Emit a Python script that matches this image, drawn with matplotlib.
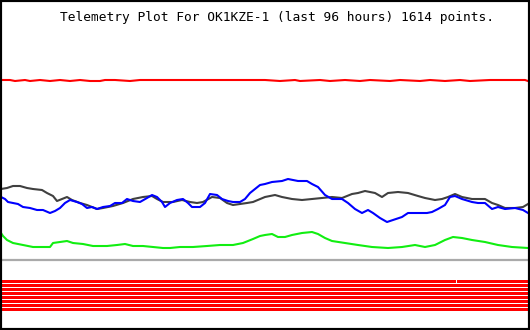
import matplotlib
matplotlib.use("Agg")
import matplotlib.pyplot as plt

title = "Telemetry Plot For OK1KZE-1 (last 96 hours) 1614 points."

# Series (x = time position, y = plotted level, screen units)
red_x = [1, 10, 15, 25, 30, 40, 50, 60, 70, 80, 90, 100, 105, 115, 130, 140, 160, 175,
         195, 215, 230, 250, 265, 280, 295, 300, 320, 330, 345, 360, 370, 390, 400, 420,
         430, 445, 460, 470, 490, 500, 515, 525, 528]
red_y = [80, 80, 81, 80, 81, 80, 81, 80, 81, 80, 81, 81, 80, 80, 81, 80, 80, 80,
         80, 80, 80, 80, 80, 81, 80, 81, 80, 81, 80, 81, 80, 81, 80, 81,
         80, 81, 80, 81, 80, 80, 80, 80, 81]

gray_x = [1, 7, 13, 20, 27, 33, 42, 47, 53, 57, 62, 67, 72, 80, 87, 92, 97, 103, 113,
          123, 133, 143, 152, 157, 163, 173, 182, 190, 197, 203, 212, 220, 227, 233,
          240, 247, 253, 265, 275, 282, 292, 302, 312, 322, 332, 342, 352, 358, 365,
          375, 382, 388, 398, 408, 418, 425, 435, 442, 448, 455, 462, 472, 485, 492,
          498, 505, 515, 523, 528]
gray_y = [189, 188, 186, 186, 188, 189, 190, 193, 196, 201, 199, 197, 200, 203, 205,
          207, 209, 208, 206, 203, 199, 197, 196, 199, 202, 202, 200, 202, 203, 202,
          197, 198, 203, 205, 204, 203, 202, 197, 195, 197, 199, 200, 199, 198, 197,
          198, 194, 193, 191, 193, 197, 193, 192, 193, 196, 198, 200, 199, 197, 194,
          197, 199, 199, 203, 205, 208, 208, 207, 204]

blue_x = [1, 5, 8, 13, 18, 23, 30, 37, 43, 50, 55, 60, 65, 70, 77, 82, 87, 92, 97,
          103, 110, 115, 122, 127, 133, 140, 147, 152, 157, 162, 165, 170, 177, 183,
          188, 192, 200, 205, 210, 217, 222, 228, 233, 240, 245, 250, 255, 260, 265,
          272, 282, 288, 298, 307, 312, 318, 325, 332, 342, 348, 355, 362, 368, 373,
          380, 387, 393, 402, 408, 418, 427, 432, 438, 445, 450, 455, 462, 472, 478,
          485, 492, 498, 505, 515, 523, 528]
blue_y = [197, 199, 202, 203, 204, 207, 208, 210, 210, 213, 211, 208, 203, 200, 202,
          204, 208, 207, 209, 207, 206, 203, 203, 199, 201, 202, 198, 195, 197, 202,
          207, 203, 200, 199, 203, 207, 207, 203, 194, 195, 199, 201, 202, 202, 199,
          193, 189, 185, 184, 182, 181, 179, 181, 181, 184, 187, 195, 199, 199, 203,
          209, 213, 210, 213, 218, 222, 220, 217, 213, 213, 213, 212, 209, 205, 197,
          196, 199, 202, 203, 203, 209, 207, 209, 208, 210, 213]

green_x = [1, 3, 7, 13, 23, 33, 43, 50, 53, 60, 67, 73, 83, 93, 107, 117, 125, 133,
           143, 153, 163, 170, 180, 193, 207, 220, 233, 243, 253, 260, 265, 272, 278,
           285, 292, 302, 312, 318, 325, 332, 345, 358, 372, 388, 402, 415, 425, 435,
           445, 453, 462, 472, 485, 498, 512, 528]
green_y = [233, 236, 240, 243, 245, 247, 247, 247, 243, 242, 241, 243, 244, 246, 246,
           245, 244, 246, 246, 247, 248, 248, 247, 247, 246, 245, 245, 243, 239, 236,
           235, 234, 237, 237, 235, 233, 232, 234, 238, 241, 243, 245, 247, 248, 247,
           245, 247, 245, 240, 237, 238, 240, 242, 245, 247, 248]

divider_level = 260

# Status bits: 8 rows, each row a list of (start, length) "on" spans
bit_rows = [0, 1, 2, 3, 4, 5, 6, 7]
bit_spans = [
    [(1, 455), (457, 71)],
    [(1, 527)], [(1, 527)], [(1, 527)], [(1, 527)],
    [(1, 527)], [(1, 527)], [(1, 527)],
]

fig = plt.figure(figsize=(5.3, 3.3), dpi=100)
ax = fig.add_axes([0, 0, 1, 1])
ax.set_xlim(0, 530)
ax.set_ylim(330, 0)
ax.set_xticks([])
ax.set_yticks([])
for s in ax.spines.values():
    s.set_color("black")
    s.set_linewidth(3)

lw = 1.5
ax.plot(red_x, red_y, color="#ff0000", lw=lw)
ax.plot(gray_x, gray_y, color="#404040", lw=lw)
ax.plot(blue_x, blue_y, color="#0000ff", lw=lw)
ax.plot(green_x, green_y, color="#11ee11", lw=lw)

ax.axhline(divider_level, xmin=1/530, xmax=528/530, color="#aaaaaa", lw=1.6)

for row, spans in zip(bit_rows, bit_spans):
    y0 = 280 + row * 4
    ax.broken_barh(spans, (y0, 3), facecolors="#ff0000", edgecolor="none")

ax.text(60, 18, title, fontfamily="DejaVu Sans Mono", fontsize=9.25,
        ha="left", va="center", color="black")

fig.savefig("out.png", dpi=100)
